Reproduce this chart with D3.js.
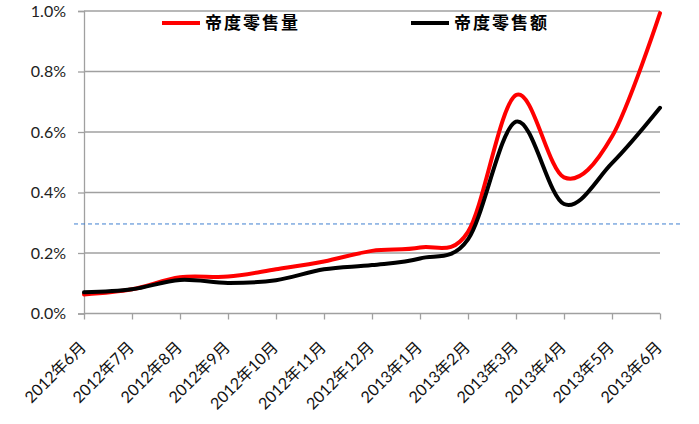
<!DOCTYPE html>
<html>
<head>
<meta charset="utf-8">
<script src="https://cdn.jsdelivr.net/npm/d3@7/dist/d3.min.js"></script>
<style>
  html, body { margin: 0; padding: 0; background: #fff; }
  svg { display: block; }
</style>
</head>
<body>
<svg id="chart" width="699" height="424"></svg>
<script>
// Monthly categories
const months = ["2012年6月", "2012年7月", "2012年8月", "2012年9月", "2012年10月", "2012年11月",
  "2012年12月", "2013年1月", "2013年2月", "2013年3月", "2013年4月", "2013年5月", "2013年6月"];

// Share values, in percent
const volumeShare = [0.063, 0.080, 0.120, 0.122, 0.146, 0.172, 0.207, 0.218, 0.270, 0.722, 0.450, 0.585, 0.993];
const salesShare  = [0.070, 0.080, 0.111, 0.101, 0.110, 0.146, 0.160, 0.182, 0.245, 0.634, 0.362, 0.497, 0.680];

const yTicks = [0, 0.2, 0.4, 0.6, 0.8, 1.0];
const referenceLevel = 0.296;

const seriesNames = ["帝度零售量", "帝度零售额"];
const seriesColors = ["#ff0000", "#000000"];

const svg = d3.select("#chart");
const plotLeft = 84, plotRight = 660, plotTop = 11, plotBottom = 313.5;

const x = d3.scalePoint().domain(months).range([plotLeft, plotRight]);
const y = d3.scaleLinear().domain([0, 1.0]).range([plotBottom, plotTop]);

const gridColor = "#a0a0a0";

// Horizontal gridlines
svg.append("g")
  .selectAll("line")
  .data(yTicks.filter(d => d > 0))
  .join("line")
  .attr("x1", plotLeft).attr("x2", plotRight)
  .attr("y1", d => y(d)).attr("y2", d => y(d))
  .attr("stroke", gridColor).attr("stroke-width", 1.3);

// Y axis
const yAxis = svg.append("g")
  .attr("transform", `translate(${plotLeft},0)`)
  .call(d3.axisLeft(y).tickValues(yTicks).tickSize(6).tickPadding(12)
    .tickFormat(d => d.toFixed(1) + "%"));
yAxis.select(".domain").attr("stroke", gridColor).attr("stroke-width", 1.3);
yAxis.selectAll(".tick line").attr("stroke", gridColor).attr("stroke-width", 1.3);
yAxis.selectAll("text")
  .attr("font-family", "Lato, 'Open Sans', sans-serif")
  .attr("font-size", 16).attr("fill", "#222");

// X axis
const xAxis = svg.append("g")
  .attr("transform", `translate(0,${plotBottom})`)
  .call(d3.axisBottom(x).tickSize(6).tickSizeOuter(0).tickFormat(""));
xAxis.select(".domain").attr("stroke", gridColor).attr("stroke-width", 1.3)
  .attr("d", `M${plotLeft},0H${plotRight}`);
xAxis.selectAll(".tick line").attr("stroke", gridColor).attr("stroke-width", 1.3);

// Rotated month labels
svg.append("g")
  .selectAll("text")
  .data(months)
  .join("text")
  .attr("transform", d => `translate(${x(d) - 1},${plotBottom + 31}) rotate(-45)`)
  .attr("text-anchor", "end")
  .attr("dy", "0.35em")
  .attr("font-family", "Lato, 'Noto Sans CJK SC', sans-serif")
  .attr("font-size", 16)
  .attr("fill", "#111")
  .text(d => d);

// Dashed reference level
svg.append("line")
  .attr("x1", 74).attr("x2", 682)
  .attr("y1", y(referenceLevel)).attr("y2", y(referenceLevel))
  .attr("stroke", "#3f7fd0").attr("stroke-width", 1)
  .attr("stroke-dasharray", "4,3");

// Smoothed series lines
const line = d3.line()
  .x((d, i) => x(months[i]))
  .y(d => y(d))
  .curve(d3.curveCatmullRom.alpha(0));

[volumeShare, salesShare].forEach((vals, k) => {
  svg.append("path")
    .datum(vals)
    .attr("d", line)
    .attr("fill", "none")
    .attr("stroke", seriesColors[k])
    .attr("stroke-width", 4)
    .attr("stroke-linejoin", "round")
    .attr("stroke-linecap", "round");
});

// Legend
const legendX = [162, 411];
seriesNames.forEach((name, k) => {
  const g = svg.append("g").attr("transform", `translate(${legendX[k]},23)`);
  g.append("line").attr("x1", 0).attr("x2", 38).attr("y1", 0).attr("y2", 0)
    .attr("stroke", seriesColors[k]).attr("stroke-width", 4);
  g.append("text").attr("x", 43).attr("dy", "0.36em")
    .attr("font-family", "'Noto Sans CJK SC', sans-serif")
    .attr("font-weight", "bold")
    .attr("font-size", 17)
    .attr("letter-spacing", 2)
    .attr("fill", "#000")
    .text(name);
});
</script>
</body>
</html>
